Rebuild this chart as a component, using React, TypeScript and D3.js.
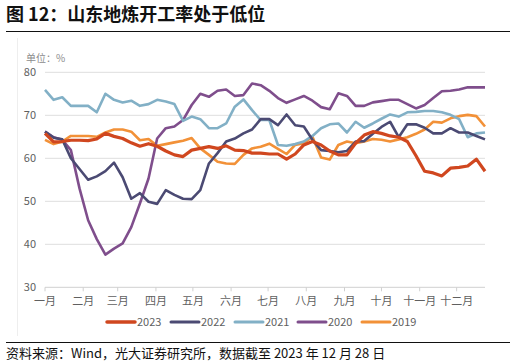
import React from "react";
import * as d3 from "d3";

// weekly operating rate, %, one value per week (52 weeks)
const y2023 = [65.8, 63.8, 63.9, 64.2, 64.2, 64.1, 64.5, 65.8, 65.1, 64.6, 63.6, 62.8, 63.4, 62.8, 61.7, 60.8, 60.4, 61.9, 62.3, 62.7, 62.3, 62.9, 61.9, 61.8, 61.2, 61.2, 61, 61, 59.8, 61, 63.1, 63.9, 63.1, 61.7, 60.8, 60.8, 63.5, 65.4, 66.2, 65.8, 65.2, 64.9, 63.9, 60.6, 57, 56.6, 55.9, 57.7, 57.9, 58.2, 59.8, 57];
const y2022 = [66.2, 64.8, 64.4, 60, 57.5, 55, 55.8, 57, 59, 55.6, 50.6, 51.9, 49.9, 49.4, 52.6, 51.5, 50.6, 50.5, 52.6, 58.8, 61.2, 63.9, 64.6, 65.8, 66.7, 69.1, 69.1, 67.7, 70.2, 67.7, 67.4, 64.3, 61.9, 61.7, 61.4, 61.7, 63.9, 64, 65.7, 67.3, 68.5, 64.9, 67.9, 67.9, 67.1, 65.8, 65.8, 67, 66, 66, 65.2, 64.4];
const y2021 = [75.9, 73.6, 74.2, 72.2, 72.2, 72.2, 70.7, 75, 73.6, 73, 73.4, 72.2, 72.6, 73.6, 73.2, 72.6, 68.7, 69.7, 69.1, 67, 67, 68.1, 72, 73.7, 71.2, 68.9, 68.9, 63.1, 62.9, 63.3, 63.9, 65.2, 67, 67.9, 68.1, 66, 68.5, 67.1, 68.1, 69.2, 70.2, 69.7, 70.7, 70.8, 71, 71, 70.7, 70.1, 69.1, 64.9, 65.8, 66];
const y2020 = [66.2, 64.9, 64.3, 61.9, 53, 45.6, 41.2, 37.6, 39, 40.2, 44, 49.5, 55.3, 64.6, 67, 67.4, 68.9, 72.4, 75, 74.3, 75.7, 76, 74.5, 74.7, 77.4, 77, 75.7, 74, 72.9, 73.7, 74.5, 73.4, 71.9, 71.4, 75.1, 74.5, 72.2, 72.2, 73, 73.3, 73.6, 73.6, 72.6, 71.6, 72.4, 74, 75.6, 75.7, 76, 76.5, 76.5, 76.5];
const y2019 = [64.3, 63.3, 63.9, 65.2, 65.2, 65.2, 65, 66, 66.7, 66.7, 66.2, 64.2, 64.5, 62.9, 63.3, 63.7, 64.1, 64.7, 62.3, 60.8, 59.2, 58.8, 58.7, 60.8, 62.3, 62.7, 63.4, 62.2, 61, 63.1, 63.5, 65, 60.2, 59.7, 63.1, 63.9, 63.5, 63.9, 64.5, 64.3, 63.9, 64.4, 64.9, 65.7, 66.7, 68.5, 68.3, 69.3, 69.8, 70.1, 69.8, 67.4];

const months = ["一月", "二月", "三月", "四月", "五月", "六月", "七月", "八月", "九月", "十月", "十一月", "十二月"];
const monthStartDay = [0, 31, 59, 90, 120, 151, 181, 212, 243, 273, 304, 334];
const yTicks = [30, 40, 50, 60, 70, 80];

const series = [
  { name: "2023", values: y2023, color: "#D0471F", width: 3.2 },
  { name: "2022", values: y2022, color: "#4B4A73", width: 2.6 },
  { name: "2021", values: y2021, color: "#82B0C6", width: 2.6 },
  { name: "2020", values: y2020, color: "#7F4E8C", width: 2.6 },
  { name: "2019", values: y2019, color: "#F29138", width: 2.6 },
];

const W = 516;
const H = 364;
const font = "'Noto Sans CJK SC', 'Noto Sans', sans-serif";

export default function App() {
  const x = d3.scaleLinear().domain([0, 357]).range([45, 485]);
  const y = d3.scaleLinear().domain([30, 80]).range([287.3, 72.3]);

  const line = d3
    .line<number>()
    .x((_, i) => x(i * 7))
    .y((d) => y(d));

  const legendX = [107, 171, 235, 298, 362];

  return (
    <svg
      width={W}
      height={H}
      style={{ position: "absolute", left: 0, top: 0, fontFamily: font }}
    >
      <rect width={W} height={H} fill="#fff" />
      {/* title */}
      <text x={6} y={21} fontSize={18} fontWeight={700} fill="#111">
        图 12：山东地炼开工率处于低位
      </text>
      <line x1={6} x2={510} y1={31.5} y2={31.5} stroke="#111" strokeWidth={1.2} />

      {/* faint frame edge */}
      <line x1={17.5} x2={17.5} y1={38} y2={336} stroke="#eeeeee" />

      <text x={26} y={62} fontSize={10} fill="#8c8c8c">
        单位：%
      </text>

      {/* grid + y labels */}
      {yTicks.map((t) => (
        <g key={t}>
          <line
            x1={45}
            x2={485}
            y1={y(t)}
            y2={y(t)}
            stroke={t === 30 ? "#d0d0d0" : "#dedede"}
            strokeWidth={1}
          />
          <text
            x={36}
            y={y(t) + 4}
            fontSize={11}
            textAnchor="end"
            fill="#606060"
          >
            {t}
          </text>
        </g>
      ))}

      {/* x ticks and labels */}
      {monthStartDay.map((d, i) => (
        <g key={months[i]}>
          <line
            x1={x(d)}
            x2={x(d)}
            y1={y(30)}
            y2={y(30) + 4}
            stroke="#d0d0d0"
          />
          <text
            x={x(d)}
            y={305}
            fontSize={11}
            textAnchor="middle"
            fill="#606060"
          >
            {months[i]}
          </text>
        </g>
      ))}

      {/* lines, drawn 2019 first so 2023 on top */}
      {[...series].reverse().map((s) => (
        <path
          key={s.name}
          d={line(s.values) || ""}
          fill="none"
          stroke={s.color}
          strokeWidth={s.width}
          strokeLinejoin="round"
        />
      ))}

      {/* legend */}
      {series.map((s, i) => (
        <g key={s.name} transform={`translate(${legendX[i]},322)`}>
          <line
            x1={0}
            x2={28}
            y1={0}
            y2={0}
            stroke={s.color}
            strokeWidth={s.name === "2023" ? 3.5 : 3}
            strokeLinecap="round"
          />
          <text x={30} y={4} fontSize={11} fill="#606060">
            {s.name}
          </text>
        </g>
      ))}

      {/* source */}
      <line x1={6} x2={510} y1={342.5} y2={342.5} stroke="#111" strokeWidth={1.2} />
      <text x={6} y={358} fontSize={13} fill="#111">
        资料来源：Wind，光大证券研究所，数据截至 2023 年 12 月 28 日
      </text>
    </svg>
  );
}
